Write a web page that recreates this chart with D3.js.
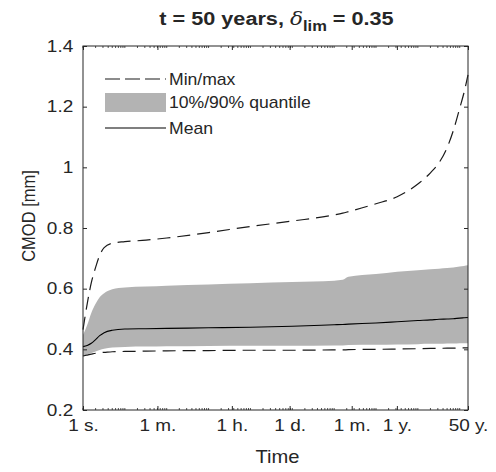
<!DOCTYPE html>
<html>
<head>
<meta charset="utf-8">
<script src="https://cdn.jsdelivr.net/npm/d3@7"></script>
<style>
  html, body { margin: 0; padding: 0; background: #fff; }
  svg text { font-family: "Liberation Sans", Arial, Helvetica, sans-serif; fill: #262626; }
</style>
</head>
<body>
<svg id="chart" width="496" height="472"></svg>
<script>
// ---- data ----
const timeSec = [1, 1.26, 1.58, 2, 2.5, 3.2, 5, 10, 32, 100, 1000, 1e4, 1e5, 1e6, 1.6e6, 2.2e6, 1e7, 3.2e7, 1e8, 2e8, 3.2e8, 5e8, 7e8, 1e9, 1.26e9, 1.578e9];
const maxVals  = [0.465,0.55,0.62,0.67,0.71,0.735,0.75,0.755,0.76,0.767,0.785,0.805,0.823,0.843,0.849,0.854,0.88,0.903,0.945,0.982,1.015,1.065,1.12,1.195,1.245,1.305];
const q90Vals  = [0.447,0.48,0.52,0.55,0.572,0.585,0.598,0.604,0.607,0.61,0.614,0.618,0.622,0.626,0.629,0.639,0.648,0.656,0.661,0.664,0.666,0.668,0.67,0.673,0.675,0.677];
const q10Vals  = [0.378,0.383,0.388,0.393,0.398,0.402,0.406,0.408,0.409,0.41,0.411,0.412,0.412,0.413,0.413,0.414,0.415,0.416,0.417,0.418,0.418,0.419,0.419,0.42,0.42,0.42];
const meanVals = [0.409,0.413,0.42,0.432,0.445,0.455,0.463,0.467,0.468,0.469,0.471,0.473,0.476,0.481,0.482,0.483,0.487,0.491,0.495,0.497,0.499,0.5,0.501,0.503,0.504,0.505];
const minVals  = [0.378,0.381,0.384,0.387,0.389,0.39,0.392,0.393,0.394,0.395,0.396,0.397,0.397,0.398,0.398,0.399,0.4,0.401,0.402,0.403,0.403,0.404,0.404,0.405,0.405,0.405];

const xTickVals   = [1, 60, 3600, 86400, 2629800, 31557600, 1577880000];
const xTickLabels = ["1 s.", "1 m.", "1 h.", "1 d.", "1 m.", "1 y.", "50 y."];
const yTickVals   = [0.2, 0.4, 0.6, 0.8, 1, 1.2, 1.4];
const legendLabels = ["Min/max", "10%/90% quantile", "Mean"];

// ---- layout ----
const L = 83, R = 468, T = 46, B = 410;
const SX = 1.15; // horizontal text stretch
const svg = d3.select("#chart");
const x = d3.scaleLog().domain([1, 1577880000]).range([L, R]);
const y = d3.scaleLinear().domain([0.2, 1.4]).range([B, T]);

const rows = timeSec.map((t, i) => ({t, max: maxVals[i], q90: q90Vals[i], q10: q10Vals[i], mean: meanVals[i], min: minVals[i]}));

// band
svg.append("path")
  .datum(rows)
  .attr("fill", "#b3b3b3")
  .attr("d", d3.area().x(d => x(d.t)).y0(d => y(d.q10)).y1(d => y(d.q90)).curve(d3.curveMonotoneX));

const line = key => d3.line().x(d => x(d.t)).y(d => y(d[key])).curve(d3.curveMonotoneX);
const dash = "13,7";
svg.append("path").datum(rows).attr("fill","none").attr("stroke","#1a1a1a").attr("stroke-width",1.2)
  .attr("stroke-dasharray", dash).attr("d", line("max"));
svg.append("path").datum(rows).attr("fill","none").attr("stroke","#1a1a1a").attr("stroke-width",1.2)
  .attr("stroke-dasharray", dash).attr("d", line("min"));
svg.append("path").datum(rows).attr("fill","none").attr("stroke","#000").attr("stroke-width",1.1)
  .attr("d", line("mean"));

// axes
const axisColor = "#262626";
const fmtY = d => d === 1 ? "1" : d3.format(".1f")(d);
const gL = svg.append("g").attr("transform", `translate(${L},0)`)
  .call(d3.axisLeft(y).tickValues(yTickVals).tickFormat(fmtY).tickSize(-4).tickPadding(8.5));
const gR = svg.append("g").attr("transform", `translate(${R},0)`)
  .call(d3.axisRight(y).tickValues(yTickVals).tickFormat("").tickSize(-4));
const gB = svg.append("g").attr("transform", `translate(0,${B})`)
  .call(d3.axisBottom(x).tickValues(xTickVals).tickFormat((d,i) => xTickLabels[i]).tickSize(-4).tickPadding(9));
const gT = svg.append("g").attr("transform", `translate(0,${T})`)
  .call(d3.axisTop(x).tickValues(xTickVals).tickFormat("").tickSize(-4));

// minor log ticks
const minors = [];
for (let k = 0; k <= 9; k++) for (let m = 1; m <= 9; m++) {
  const v = m * Math.pow(10, k);
  if (v >= 1 && v <= 1577880000) minors.push(v);
}
[[B, -1], [T, 1]].forEach(([yy, dir]) => {
  svg.append("g").selectAll("line").data(minors).join("line")
    .attr("x1", d => x(d)).attr("x2", d => x(d))
    .attr("y1", yy).attr("y2", yy + dir * 2)
    .attr("stroke", axisColor).attr("stroke-width", 0.8);
});

[gL, gR, gB, gT].forEach(g => {
  g.select(".domain").remove();
  g.selectAll("line").attr("stroke", axisColor);
  g.selectAll("text").attr("font-size", 16.5).attr("fill", axisColor)
    .attr("font-family", '"Liberation Sans", Arial, sans-serif')
    .attr("transform", `scale(${SX},1)`);
});
svg.append("rect").attr("x", L).attr("y", T).attr("width", R - L).attr("height", B - T)
  .attr("fill", "none").attr("stroke", axisColor).attr("stroke-width", 1);

// labels
svg.append("text").attr("transform", `translate(${(L + R) / 2 + 2},463) scale(1.12,1)`).attr("text-anchor", "middle")
  .attr("font-size", 18).text("Time");
svg.append("text").attr("transform", "translate(35,216) rotate(-90) scale(1,1.12)").attr("text-anchor", "middle")
  .attr("font-size", 16.5).text("CMOD [mm]");

// title
const title = svg.append("text").attr("transform", `translate(${(L + R) / 2 + 1},25) scale(1.14,1)`)
  .attr("text-anchor", "middle")
  .attr("font-size", 19).attr("font-weight", "bold").attr("fill", "#000");
title.append("tspan").text("t = 50 years, ");
title.append("tspan").attr("font-style", "italic").attr("font-weight", "normal")
  .attr("font-family", '"DejaVu Serif", "Liberation Serif", serif').text("δ");
title.append("tspan").attr("font-size", 14.5).attr("dy", 6).text("lim");
title.append("tspan").attr("dy", -6).text(" = 0.35");

// legend
const lx0 = 105, lx1 = 166, tx = 169;
const lg = svg.append("g");
lg.append("line").attr("x1", lx0).attr("x2", lx1).attr("y1", 79).attr("y2", 79)
  .attr("stroke", "#1a1a1a").attr("stroke-width", 1.2).attr("stroke-dasharray", "15,5");
lg.append("rect").attr("x", lx0).attr("y", 93).attr("width", lx1 - lx0).attr("height", 19).attr("fill", "#b3b3b3");
lg.append("line").attr("x1", lx0).attr("x2", lx1).attr("y1", 128).attr("y2", 128)
  .attr("stroke", "#000").attr("stroke-width", 1.1);
[79, 102.5, 128].forEach((yy, i) => {
  lg.append("text").attr("transform", `translate(${tx},${yy}) scale(1.1,1)`).attr("dy", "0.35em").attr("font-size", 16)
    .text(legendLabels[i]);
});
</script>
</body>
</html>
